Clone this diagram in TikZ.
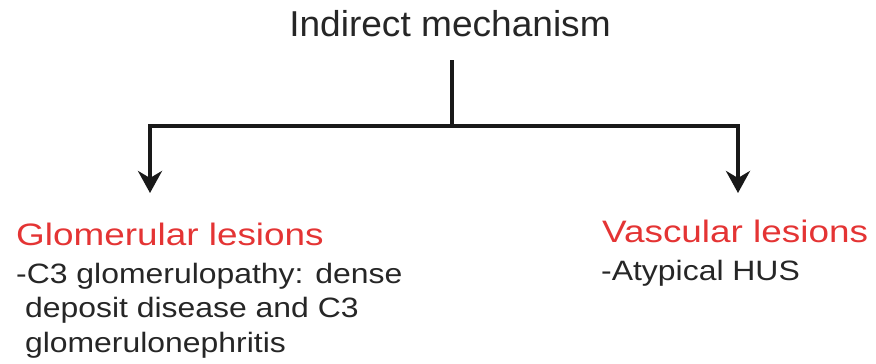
\documentclass[tikz,border=0pt]{standalone}
\usepackage{fontspec}
\setmainfont{Liberation Sans}
\newfontfamily\headfont[FakeStretch=1.19]{Liberation Sans}
\newfontfamily\bodyfont[FakeStretch=1.14]{Liberation Sans}
\newfontfamily\titlefont[FakeStretch=1.03]{Liberation Sans}
\usetikzlibrary{arrows.meta}
\definecolor{hdred}{RGB}{228,52,52}
\definecolor{txtgray}{RGB}{38,38,38}
\tikzset{
  conn/.style={line width=4.5pt, draw=black!90},
  arr/.style={conn, -{Stealth[length=22pt,width=24pt,inset=7pt]}},
  heading/.style={anchor=base west, inner sep=0pt, text=hdred, font=\headfont\fontsize{31}{36}\selectfont},
  body/.style={anchor=base west, inner sep=0pt, text=txtgray, align=left, font=\bodyfont\fontsize{28}{34.5}\selectfont},
  titlestyle/.style={anchor=base, inner sep=0pt, text=txtgray, font=\titlefont\fontsize{36}{40}\selectfont}
}
\begin{document}
\begin{tikzpicture}[x=1pt,y=-1pt]
\useasboundingbox (0,0) rectangle (876,364);
\node[titlestyle] (title) at (450,36) {Indirect mechanism};
\coordinate (top) at (452,60);
\coordinate (mid) at (452,126);
\coordinate (lc) at (150,126);
\coordinate (rc) at (738,126);
\coordinate (lend) at (150,193);
\coordinate (rend) at (738,193);
\draw[conn] (top) -- (mid);
\draw[conn, line cap=rect] (lc) -- (rc);
\draw[arr] (lc) -- (lend);
\draw[arr] (rc) -- (rend);
\node[heading] (glom) at (16,245) {Glomerular lesions};
\node[body] (glomtxt) at (16,352) {-C3 glomerulopathy: dense\\\ deposit disease and C3\\\ glomerulonephritis};
\node[heading] (vasc) at (602,242) {Vascular lesions};
\node[body] (vasctxt) at (601,280) {-Atypical HUS};
\end{tikzpicture}
\end{document}
